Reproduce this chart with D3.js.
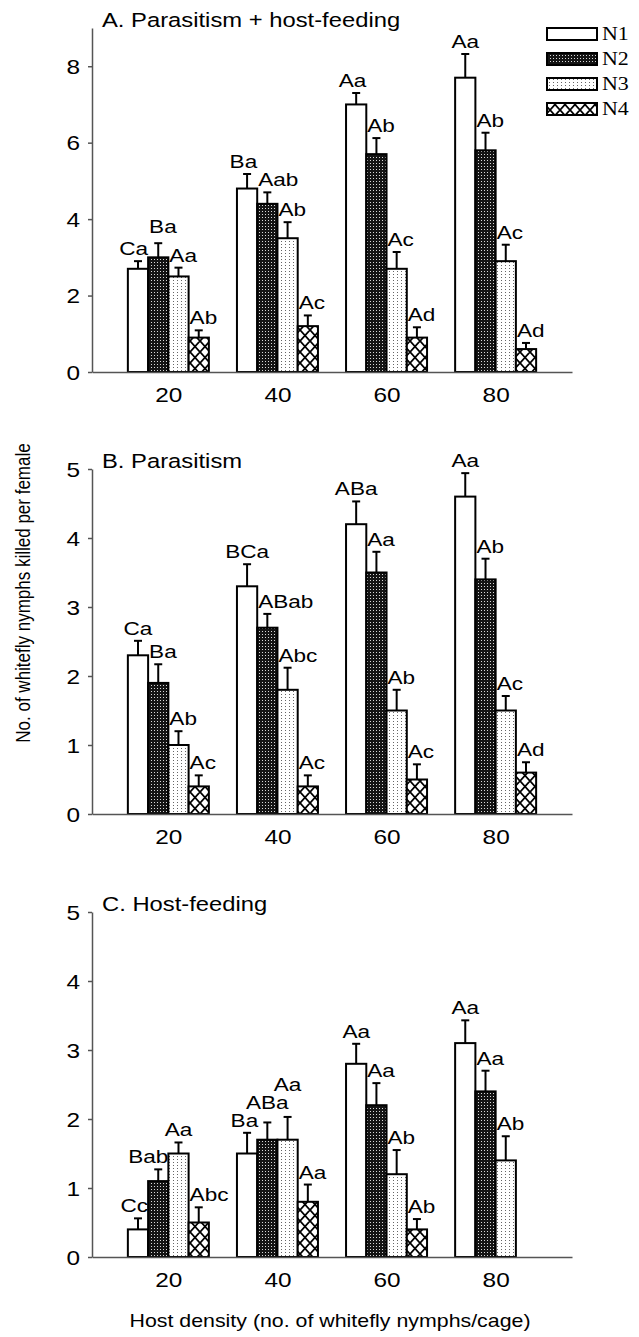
<!DOCTYPE html>
<html>
<head>
<meta charset="utf-8">
<script src="https://cdn.jsdelivr.net/npm/d3@7/dist/d3.min.js"></script>
<style>
  html, body { margin: 0; padding: 0; background: #fff; }
  svg { display: block; }
  text { font-family: "Liberation Sans", Arial, sans-serif; fill: #000; }
</style>
</head>
<body>
<svg id="chart" width="639" height="1337"></svg>
<script>
// ---------------- DATA ----------------
const groups = ["20", "40", "60", "80"];
const series = ["N1", "N2", "N3", "N4"];

// Panel A: Parasitism + host-feeding (rows = host density, cols = N1..N4)
const meanA = [[2.7, 3.0, 2.5, 0.9], [4.8, 4.4, 3.5, 1.2], [7.0, 5.7, 2.7, 0.9], [7.7, 5.8, 2.9, 0.6]];
const seA   = [[0.2, 0.37, 0.23, 0.19], [0.38, 0.3, 0.42, 0.28], [0.3, 0.42, 0.44, 0.27], [0.62, 0.46, 0.43, 0.16]];
const lblA  = [["Ca", "Ba", "Aa", "Ab"], ["Ba", "Aab", "Ab", "Ac"], ["Aa", "Ab", "Ac", "Ad"], ["Aa", "Ab", "Ac", "Ad"]];

// Panel B: Parasitism
const meanB = [[2.3, 1.9, 1.0, 0.4], [3.3, 2.7, 1.8, 0.4], [4.2, 3.5, 1.5, 0.5], [4.6, 3.4, 1.5, 0.6]];
const seB   = [[0.21, 0.27, 0.2, 0.16], [0.32, 0.2, 0.32, 0.16], [0.33, 0.3, 0.3, 0.22], [0.34, 0.3, 0.21, 0.15]];
const lblB  = [["Ca", "Ba", "Ab", "Ac"], ["BCa", "ABab", "Abc", "Ac"], ["ABa", "Aa", "Ab", "Ac"], ["Aa", "Ab", "Ac", "Ad"]];

// Panel C: Host-feeding (N4 at 80 not shown)
const meanC = [[0.4, 1.1, 1.5, 0.5], [1.5, 1.7, 1.7, 0.8], [2.8, 2.2, 1.2, 0.4], [3.1, 2.4, 1.4, null]];
const seC   = [[0.16, 0.17, 0.16, 0.22], [0.3, 0.25, 0.33, 0.25], [0.29, 0.32, 0.35, 0.15], [0.33, 0.3, 0.35, null]];
const lblC  = [["Cc", "Bab", "Aa", "Abc"], ["Ba", "ABa", "Aa", "Aa"], ["Aa", "Aa", "Ab", "Ab"], ["Aa", "Aa", "Ab", null]];

const yTicksA = [0, 2, 4, 6, 8];
const yTicksBC = [0, 1, 2, 3, 4, 5];

const titleA = "A. Parasitism + host-feeding";
const titleB = "B. Parasitism";
const titleC = "C. Host-feeding";
const xTitle = "Host density (no. of whitefly nymphs/cage)";
const yTitle = "No. of whitefly nymphs killed per female";

// ---------------- LAYOUT ----------------
const SX = 1.22; // horizontal stretch of the original figure's lettering
const svg = d3.select("#chart");
const axisX0 = 92, axisX1 = 572;

// label placement tweaks (layout only)
const labelLayout = {
  "A|20|N1": { anchor: "end" },
  "A|20|N2": { dy: -4 },
  "A|40|N1": { anchor: "end" },
  "A|60|N1": { anchor: "end" },
  "C|20|N1": { anchor: "end" },
  "C|20|N2": { anchor: "end" },
  "C|20|N3": { anchor: "middle" },
  "C|40|N1": { anchor: "end", dx: 1 },
  "C|40|N2": { anchor: "middle", dy: -7 },
  "C|40|N3": { anchor: "middle", dy: -20 }
};

// ---------------- PATTERNS ----------------
const defs = svg.append("defs");
const p2 = defs.append("pattern").attr("id", "pN2").attr("patternUnits", "userSpaceOnUse")
  .attr("width", 3).attr("height", 3);
p2.append("rect").attr("width", 3).attr("height", 3).attr("fill", "#141414");
p2.append("rect").attr("x", 1).attr("y", 1).attr("width", 1).attr("height", 1).attr("fill", "#d8d8d8");

const p3 = defs.append("pattern").attr("id", "pN3").attr("patternUnits", "userSpaceOnUse")
  .attr("width", 4).attr("height", 3);
p3.append("rect").attr("width", 4).attr("height", 3).attr("fill", "#fff");
p3.append("rect").attr("x", 1).attr("y", 1).attr("width", 1).attr("height", 1).attr("fill", "#666");

const p4 = defs.append("pattern").attr("id", "pN4").attr("patternUnits", "userSpaceOnUse")
  .attr("width", 10).attr("height", 11);
p4.append("rect").attr("width", 10).attr("height", 11).attr("fill", "#fff");
p4.append("path").attr("d", "M0,0L10,11M10,0L0,11M-1,10L1,12M9,-1L11,1")
  .attr("stroke", "#000").attr("stroke-width", 1.8).attr("fill", "none");

const fills = { N1: "#fff", N2: "url(#pN2)", N3: "url(#pN3)", N4: "url(#pN4)" };

function stretchedText(parent, x, y, str, size, anchor, family) {
  return parent.append("text")
    .attr("transform", `translate(${x},${y}) scale(${SX},1)`)
    .attr("text-anchor", anchor || "start")
    .style("font-size", size + "px")
    .style("font-family", family || null)
    .text(str);
}

const x = d3.scalePoint().domain(groups).range([axisX0, axisX1]).padding(0.7);
const sub = d3.scaleBand().domain(series).range([-40.5, 40.5]).padding(0);

function panel(key, means, ses, labels, yDomainMax, yTicks, yBottom, yTop, title) {
  const y = d3.scaleLinear().domain([0, yDomainMax]).range([yBottom, yTop]);
  const g = svg.append("g");

  // bars
  groups.forEach((grp, gi) => {
    series.forEach((s, si) => {
      const v = means[gi][si];
      if (v == null) return;
      const e = ses[gi][si];
      const x0 = x(grp) + sub(s);
      const w = sub.bandwidth();
      g.append("rect")
        .attr("x", x0).attr("y", y(v))
        .attr("width", w).attr("height", y(0) - y(v))
        .attr("fill", fills[s]).attr("stroke", "#000").attr("stroke-width", 2);
      const cx = x0 + w / 2;
      g.append("line").attr("x1", cx).attr("x2", cx).attr("y1", y(v)).attr("y2", y(v + e))
        .attr("stroke", "#000").attr("stroke-width", 2);
      g.append("line").attr("x1", cx - 4).attr("x2", cx + 4).attr("y1", y(v + e)).attr("y2", y(v + e))
        .attr("stroke", "#000").attr("stroke-width", 2);
      const lab = labels[gi][si];
      if (lab) {
        const lay = labelLayout[`${key}|${grp}|${s}`] || {};
        const anchor = lay.anchor || (si === 0 ? "middle" : "start");
        const lx = (anchor === "middle" ? cx : anchor === "end" ? x0 + w : x0 + 1) + (lay.dx || 0);
        stretchedText(g, lx, y(v + e) - 6 + (lay.dy || 0), lab, 18.5, anchor);
      }
    });
  });

  // y axis
  const ya = g.append("g").attr("transform", `translate(${axisX0},0)`)
    .call(d3.axisLeft(y).tickValues(yTicks).tickSize(4).tickSizeOuter(0).tickFormat(d3.format("d")));
  ya.select(".domain").attr("stroke", "#555").attr("stroke-width", 1.5);
  ya.selectAll(".tick line").attr("stroke", "#555").attr("stroke-width", 1.5);
  ya.selectAll(".tick text")
    .attr("x", null).attr("dy", "0.36em")
    .attr("transform", `translate(-12,0) scale(${SX},1)`)
    .style("font-size", "20px").style("font-family", "Liberation Sans, Arial, sans-serif")
    .attr("fill", "#000");

  // x axis
  const xa = g.append("g").attr("transform", `translate(0,${yBottom})`)
    .call(d3.axisBottom(x).tickSize(0).tickSizeOuter(0));
  xa.select(".domain").attr("stroke", "#555").attr("stroke-width", 1.5);
  xa.selectAll(".tick text")
    .attr("y", null).attr("dy", null)
    .attr("transform", `translate(0,30) scale(${SX},1)`)
    .style("font-size", "20px").style("font-family", "Liberation Sans, Arial, sans-serif")
    .attr("fill", "#000");

  // title
  stretchedText(g, 102, yTop - 1, title, 19.5, "start");
}

panel("A", meanA, seA, lblA, 9, yTicksA, 372, 28, titleA);
panel("B", meanB, seB, lblB, 5, yTicksBC, 814, 469, titleB);
panel("C", meanC, seC, lblC, 5, yTicksBC, 1257, 912, titleC);

// axis titles
stretchedText(svg, 330, 1327, xTitle, 17.5, "middle");
svg.append("text")
  .attr("transform", `translate(30,593) scale(${SX},1) rotate(-90)`)
  .attr("text-anchor", "middle")
  .style("font-size", "17px")
  .text(yTitle);

// legend
const leg = svg.append("g");
series.forEach((s, i) => {
  const ly = 28 + i * 25;
  leg.append("rect").attr("x", 547).attr("y", ly).attr("width", 50).attr("height", 12)
    .attr("fill", fills[s]).attr("stroke", "#000").attr("stroke-width", 2);
  stretchedText(leg, 602, ly + 12, s, 18, "start", "Liberation Serif, Times New Roman, serif");
});
</script>
</body>
</html>
